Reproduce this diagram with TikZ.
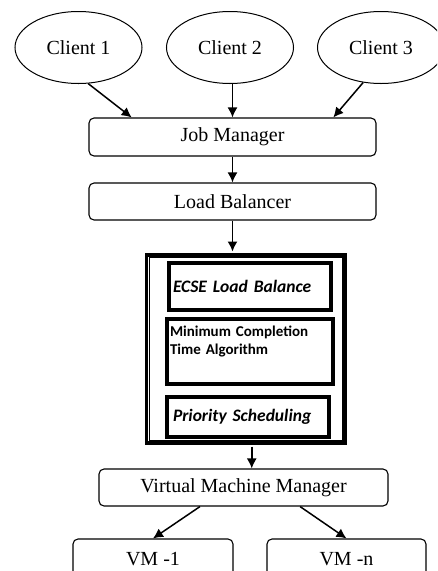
\documentclass[tikz,border=0pt]{standalone}
\usepackage{fontspec}
\setmainfont{Liberation Serif}
\newfontfamily\calibri{Carlito}
\usetikzlibrary{positioning,shapes.geometric,arrows.meta,calc}

\begin{document}
\begin{tikzpicture}[x=1pt,y=-1pt,
  client/.style={draw,ellipse,line width=1pt,minimum width=127pt,minimum height=72pt,inner sep=0pt,font=\fontsize{20}{24}\selectfont},
  mgr/.style={draw,rounded corners=5pt,line width=1.1pt,inner sep=0pt,font=\fontsize{20}{24}\selectfont},
  algbox/.style={draw,line width=4pt,inner sep=0pt,align=left,font=\calibri\bfseries\fontsize{15}{18}\selectfont},
  algit/.style={algbox,font=\calibri\bfseries\itshape\fontsize{17.5}{21}\selectfont},
  arr/.style={line width=1.5pt,-{Latex[length=10pt,width=10pt]}}]
%set diagram to the page size
\useasboundingbox (0,0) rectangle (437,571);
\clip (0,0) rectangle (437,571);

% Clients
\node[client] (c1) at (78.5,47.5) {Client 1};
\node[client] (c2) at (230,47.5) {Client 2};
\node[client] (c3) at (381,47.5) {Client 3};

% Managers
\node[mgr,minimum width=287pt,minimum height=38pt] (jm) at (232.5,137) {Job Manager};
\node[mgr,minimum width=287pt,minimum height=37pt] (lb) at (232.5,201.5) {Load Balancer};

% Algorithm frame
\node[draw,line width=3.5pt,minimum width=198.5pt,minimum height=188pt,inner sep=0pt] (alg) at (245.75,349) {};
\draw[line width=0.8pt] ([shift={(4.5,4.5)}]alg.north west) rectangle ([shift={(-4.5,-4.5)}]alg.south east);
\node[algit,minimum width=161.5pt,minimum height=47pt,text width=153.5pt] (ecse) at (249.75,286.5) {ECSE Load Balance};
\node[algbox,minimum width=166.5pt,minimum height=65pt,text width=159.5pt] (mct) at (249.75,351.5) {Minimum Completion\\Time Algorithm\\\strut};
\node[algit,minimum width=162.5pt,minimum height=40pt,text width=149.5pt] (prio) at (247.75,417) {Priority Scheduling};

% Virtual machines
\node[mgr,minimum width=289pt,minimum height=37pt] (vmm) at (243.5,487.5) {Virtual Machine Manager};
\node[mgr,minimum width=160pt,minimum height=40pt] (vm1) at (153,559) {VM -1};
\node[mgr,minimum width=159pt,minimum height=40pt] (vmn) at (346.5,559) {VM -n};

% Arrows
\draw[arr] (c1.-75) -- ($(jm.north west)!0.15!(jm.north east)$);
\draw[arr] (c2.south -| jm.north) -- (jm.north);
\draw[arr] (c3.-117) -- ($(jm.north west)!0.85!(jm.north east)$);
\draw[arr] (jm) -- (lb);
\draw[arr,shorten >=1.75pt] (lb.south) -- (lb.south |- alg.north);
\draw[arr,shorten <=1.75pt] ([xshift=6pt]alg.south) -- ([xshift=6pt]alg.south |- vmm.north);
\draw[arr] ($(vmm.south west)!0.35!(vmm.south east)$) -- (vm1.north);
\draw[arr] ($(vmm.south west)!0.695!(vmm.south east)$) -- (vmn.north);

\end{tikzpicture}
\end{document}
